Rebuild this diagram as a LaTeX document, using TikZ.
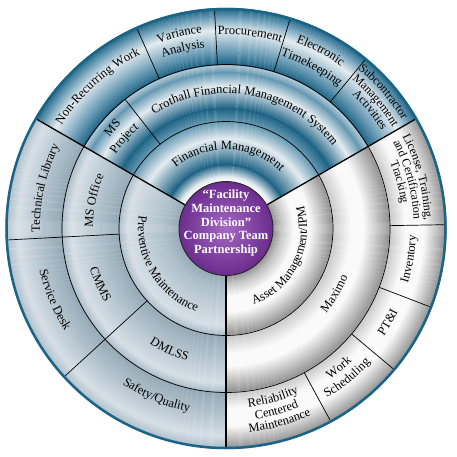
\documentclass[tikz,border=0pt]{standalone}
\usepackage{fontspec}
\setmainfont{Liberation Serif}
\usetikzlibrary{decorations.text}
\definecolor{bD}{RGB}{28,98,132}
\definecolor{bM}{RGB}{100,152,178}
\definecolor{bL}{RGB}{228,236,240}
\definecolor{bLL}{RGB}{185,205,215}
\definecolor{lD}{RGB}{148,168,181}
\definecolor{lM}{RGB}{172,190,201}
\definecolor{lL}{RGB}{214,223,229}
\definecolor{gD}{RGB}{145,145,145}
\definecolor{gM}{RGB}{200,200,200}
\definecolor{gL}{RGB}{250,250,250}
\definecolor{rimc}{RGB}{25,100,135}
\definecolor{pL}{RGB}{165,105,195}
\definecolor{pD}{RGB}{108,45,142}
\newcommand\lblfont{\fontsize{12.5}{12.5}\selectfont}
\newcommand\smlfont{\fontsize{12}{12}\selectfont}
% #1,#2 angles; from radius #3 in colour #4 to radius #5 in colour #6
\newcommand\band[6]{%
  \foreach \r in {#3,...,#5}{%
    \pgfmathsetmacro\pp{100*(\r-#3)/(#5-#3)}%
    \draw[line width=1.25pt,color=#6!\pp!#4] (#1:\r) arc[start angle=#1,end angle=#2,radius=\r];}}
\newcommand{\cwlab}[4][\lblfont]{%
  \path[decorate,decoration={text along path,text align=center,text={|#1|#4}}]
    (#2+80:#3) arc[start angle=#2+80,end angle=#2-80,radius=#3];}
\newcommand{\ccwlab}[4][\lblfont]{%
  \path[decorate,decoration={text along path,text align=center,text={|#1|#4}}]
    (#2-80:#3) arc[start angle=#2-80,end angle=#2+80,radius=#3];}
\begin{document}
\begin{tikzpicture}[x=1pt,y=1pt,
  ringline/.style={black,line width=0.7pt},
  divline/.style={black,line width=1.3pt},
  subline/.style={black,line width=0.7pt}]
\useasboundingbox (-226,-227.5) rectangle (231,228.5);
\fill[white] (-226,-227.5) rectangle (231,228.5);
\coordinate (C) at (0,0);
% top sector (blue)
\band{30}{150}{47}{white}{52}{bL}
\band{30}{150}{52}{bL}{64}{bD}
\band{30}{150}{64}{bD}{90}{bL}
\band{30}{150}{90}{bL}{107}{bM}
\band{30}{150}{107}{bM}{120}{bD}
\band{30}{150}{120}{bD}{142}{bL}
\band{30}{150}{142}{bL}{156}{bM}
\band{30}{150}{156}{bM}{164}{bLL}
\band{30}{150}{164}{bD}{176}{bM}
\band{30}{150}{176}{bM}{198}{bL}
\band{30}{150}{198}{bL}{212}{bM}
\band{30}{150}{212}{bM}{220}{bD}
% left sector (steel)
\band{150}{270}{47}{lD}{60}{lM}
\band{150}{270}{60}{lM}{98}{lL}
\band{150}{270}{98}{lL}{107}{lM}
\band{150}{270}{107}{lD}{125}{lM}
\band{150}{270}{125}{lM}{155}{lL}
\band{150}{270}{155}{lL}{164}{lM}
\band{150}{270}{164}{lD}{182}{lM}
\band{150}{270}{182}{lM}{208}{lL}
\band{150}{270}{208}{lL}{220}{lM}
% right sector (silver)
\band{-90}{30}{47}{gD}{56}{gM}
\band{-90}{30}{56}{gM}{68}{gL}
\band{-90}{30}{68}{gL}{84}{gL}
\band{-90}{30}{84}{gL}{107}{gD}
\band{-90}{30}{107}{gM}{125}{gL}
\band{-90}{30}{125}{gL}{138}{gL}
\band{-90}{30}{138}{gL}{164}{gD}
\band{-90}{30}{164}{gM}{180}{gL}
\band{-90}{30}{180}{gL}{198}{gL}
\band{-90}{30}{198}{gL}{220}{gD}
% rings
\draw[ringline] (C) circle[radius=107];
\draw[ringline] (C) circle[radius=164];
% sub dividers
\foreach \a in {114,93,73,50.5,1,-21,-40,-61.5}
  \draw[subline] (\a:164) -- (\a:218);
\foreach \a in {183,222.5}
  \draw[subline] (\a:107) -- (\a:218);
\draw[subline] (128:107) -- (128:164);
% main dividers
\foreach \a in {30,150,270}
  \draw[divline] (\a:47) -- (\a:219);
% rim
\draw[rimc,line width=2.5pt] (C) circle[radius=219.5];
% centre
\foreach \r in {47,46,...,1}{%
  \pgfmathsetmacro\pp{100*\r/47}%
  \fill[color=pD!\pp!pL] (C) circle[radius=\r];}
\draw[black!85,line width=0.9pt] (C) circle[radius=47];
\node[text=white,font=\bfseries\fontsize{12.5}{13.7}\selectfont,align=center] (ctr) at (0,5.5)
  {“Facility\\Maintenance\\Division”\\Company Team\\Partnership};
% top sector labels
\cwlab{88}{79}{Financial Management}
\cwlab{80}{135}{Crothall Financial Management System}
\cwlab{138.5}{148}{MS}
\cwlab{138.5}{133}{Project}
\cwlab{132}{194}{Non-Recurring Work}
\cwlab{103.5}{197}{Variance}
\cwlab{103.5}{182}{Analysis}
\cwlab{83}{194}{Procurement}
\cwlab{62}{199}{Electronic}
\cwlab{62}{181}{Timekeeping}
\cwlab[\smlfont]{41}{207}{Subcontractor}
\cwlab[\smlfont]{40.5}{195}{Management}
\cwlab[\smlfont]{39.5}{184}{Activities}
% right sector labels
\ccwlab{-27}{81}{Asset Management/IPM}
\ccwlab{-31}{131}{Maximo}
\cwlab[\smlfont]{15}{199}{License, Training,}
\cwlab[\smlfont]{15}{188}{and Certification}
\cwlab[\smlfont]{15}{177}{Tracking}
\ccwlab{-9.5}{190}{Inventory}
\ccwlab{-30}{191}{PT{\&}I}
\ccwlab{-51}{183}{Work}
\ccwlab{-51}{197}{Scheduling}
\ccwlab{-74.5}{180}{Reliability}
\ccwlab{-74.5}{193}{Centered}
\ccwlab{-74.5}{205}{Maintenance}
% left sector labels
\ccwlab{211}{88}{Preventive Maintenance}
\cwlab{168}{133}{MS Office}
\cwlab{167.5}{186}{Technical Library}
\ccwlab{204}{142}{CMMS}
\ccwlab{202.5}{191}{Service Desk}
\ccwlab{245}{138}{DMLSS}
\ccwlab{247.5}{187}{Safety/Quality}
\end{tikzpicture}
\end{document}
